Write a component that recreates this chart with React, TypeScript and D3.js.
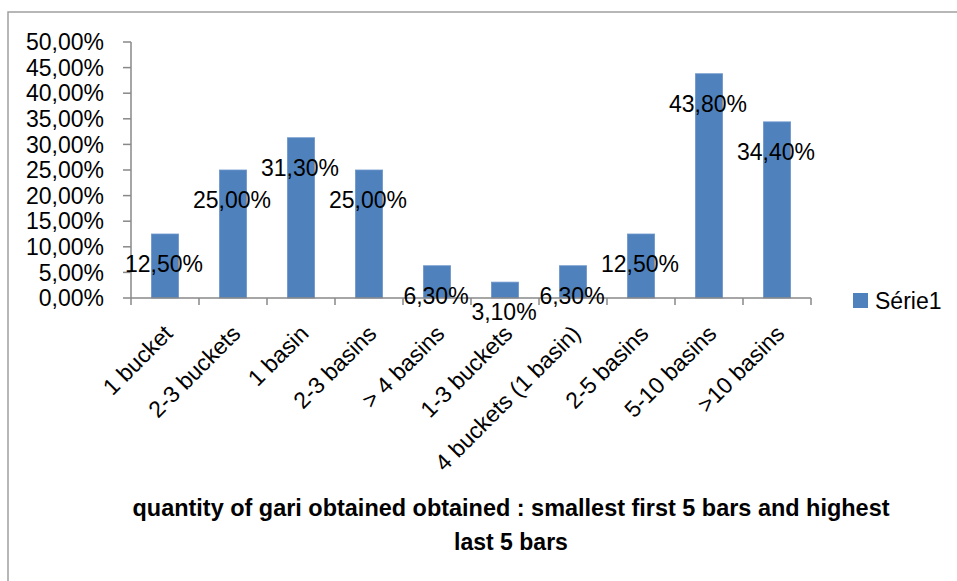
import React from "react";
import * as d3 from "d3";

const categories = ["1 bucket", "2-3 buckets", "1 basin", "2-3 basins", "> 4 basins", "1-3 buckets", "4 buckets (1 basin)", "2-5 basins", "5-10 basins", ">10 basins"];
const values = [12.5, 25.0, 31.3, 25.0, 6.3, 3.1, 6.3, 12.5, 43.8, 34.4];
const yTicks = [0, 5, 10, 15, 20, 25, 30, 35, 40, 45, 50];
const seriesName = "Série1";
const titleLines = ["quantity of gari obtained obtained : smallest first 5 bars and highest", "last 5 bars"];

const W = 957, H = 581;
const plotLeft = 131, plotRight = 811, plotTop = 42, plotBottom = 298;
const FONT = "'Liberation Sans', Arial, sans-serif";
const fmt = (v: number) => v.toFixed(2).replace(".", ",") + "%";

export default function App() {
  const x = d3.scaleBand<string>().domain(categories).range([plotLeft, plotRight]).paddingInner(0.6).paddingOuter(0.3);
  const y = d3.scaleLinear().domain([0, 50]).range([plotBottom, plotTop]);
  const step = x.step();
  const axisColor = "#888888";
  const fs = 23;
  return (
    <svg width={W} height={H} style={{ position: "absolute", left: 0, top: 0, background: "#fff" }} fontFamily={FONT}>
      <rect x={8} y={12} width={W + 10} height={H + 10} fill="#fff" stroke="#a0a0a0" strokeWidth={1.5} />
      {/* bars */}
      {categories.map((c, i) => (
        <rect key={c} x={x(c)!} y={y(values[i])} width={x.bandwidth()} height={plotBottom - y(values[i])} fill="#4F81BD" stroke="#6f97cc" strokeWidth={0.8} />
      ))}
      {/* y axis */}
      <line x1={plotLeft} x2={plotLeft} y1={plotTop} y2={plotBottom} stroke={axisColor} strokeWidth={1.5} />
      {yTicks.map((t) => (
        <g key={t}>
          <line x1={plotLeft - 8} x2={plotLeft} y1={y(t)} y2={y(t)} stroke={axisColor} strokeWidth={1.5} />
          <text x={104} y={y(t)} dy="0.36em" textAnchor="end" fontSize={fs} fill="#000">{fmt(t)}</text>
        </g>
      ))}
      {/* x axis */}
      <line x1={plotLeft} x2={plotRight} y1={plotBottom} y2={plotBottom} stroke={axisColor} strokeWidth={1.5} />
      {d3.range(categories.length + 1).map((i) => (
        <line key={i} x1={plotLeft + i * step} x2={plotLeft + i * step} y1={plotBottom} y2={plotBottom + 7} stroke={axisColor} strokeWidth={1.5} />
      ))}
      {categories.map((c) => {
        const cx = x(c)! + x.bandwidth() / 2;
        return (
          <text key={c} transform={`translate(${cx + 9},${plotBottom + 37}) rotate(-45)`} textAnchor="end" fontSize={fs} fill="#000">{c}</text>
        );
      })}
      {/* data labels */}
      {categories.map((c, i) => {
        const cx = x(c)! + x.bandwidth() / 2;
        return (
          <text key={c} x={cx - 1} y={y(values[i]) + 30} dy="0.36em" textAnchor="middle" fontSize={fs} fill="#000">{fmt(values[i])}</text>
        );
      })}
      {/* legend */}
      <rect x={853} y={293} width={15} height={15} fill="#4F81BD" />
      <text x={875} y={300.5} dy="0.36em" fontSize={fs} fill="#000">{seriesName}</text>
      {/* title */}
      <text x={511} y={516} textAnchor="middle" fontSize={23} fontWeight="bold" fill="#000" textLength={757} lengthAdjust="spacingAndGlyphs">{titleLines[0]}</text>
      <text x={511} y={550} textAnchor="middle" fontSize={23} fontWeight="bold" fill="#000">{titleLines[1]}</text>
    </svg>
  );
}
